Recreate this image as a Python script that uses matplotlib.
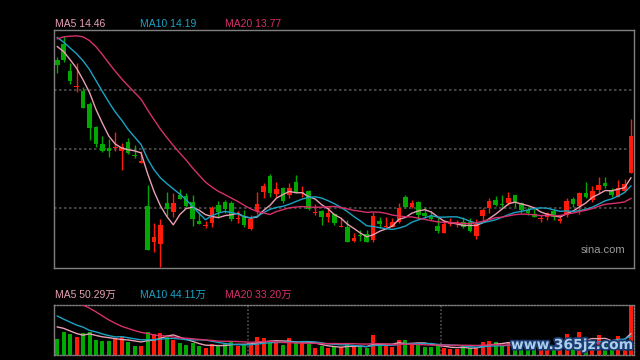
import numpy as np
import matplotlib
matplotlib.use("Agg")
import matplotlib.pyplot as plt
import matplotlib.patheffects as pe

# 日K数据 (90根)
opens = [18.35, 18.88, 17.98, 17.44, 17.32, 16.88, 16.11, 15.55, 15.43, 15.42,
         15.33, 15.62, 15.19, 14.91, 13.48, 12.29, 12.22, 13.59, 13.27, 13.84,
         13.82, 13.61, 12.98, 12.82, 12.91, 13.51, 13.62, 13.57, 13.06, 13.11,
         12.73, 13.32, 13.96, 14.48, 13.88, 14.08, 13.84, 14.28, 13.91, 13.98,
         13.26, 13.33, 13.13, 13.22, 12.78, 12.79, 12.33, 12.52, 12.54, 12.35,
         12.98, 12.78, 12.79, 12.96, 13.79, 13.44, 13.62, 13.24, 13.15, 12.82,
         12.59, 12.87, 12.87, 12.96, 12.96, 12.49, 13.15, 13.43, 13.68, 13.53,
         13.57, 13.85, 13.57, 13.35, 13.22, 13.04, 13.11, 13.33, 12.99, 13.18,
         13.71, 13.48, 13.93, 13.68, 14.02, 14.25, 14.03, 13.80, 14.00, 14.59]
highs = [18.44, 19.15, 18.26, 18.24, 17.46, 16.96, 16.16, 15.82, 15.71, 15.94,
         15.57, 15.76, 15.52, 15.33, 14.19, 12.91, 13.04, 13.95, 13.91, 14.04,
         13.91, 13.84, 13.28, 12.98, 13.48, 13.65, 13.68, 13.66, 13.32, 13.35,
         13.18, 13.94, 14.24, 14.54, 14.29, 14.11, 14.26, 14.52, 14.15, 14.02,
         13.54, 13.35, 13.46, 13.24, 13.07, 13.02, 12.57, 12.68, 12.68, 13.29,
         13.13, 13.13, 13.07, 13.57, 13.85, 13.68, 13.65, 13.46, 13.33, 13.07,
         13.02, 13.07, 13.02, 13.13, 13.09, 13.04, 13.41, 13.74, 13.82, 13.85,
         13.96, 13.85, 13.63, 13.46, 13.41, 13.18, 13.29, 13.37, 13.15, 13.74,
         13.77, 13.96, 14.29, 14.15, 14.45, 14.46, 14.10, 14.35, 14.38, 16.37]
lows = [17.93, 18.29, 17.55, 17.28, 16.76, 15.68, 15.46, 15.28, 15.13, 15.33,
        14.68, 15.22, 15.09, 14.91, 12.03, 11.96, 11.46, 13.15, 13.11, 13.71,
        13.44, 12.83, 12.87, 12.75, 12.77, 13.13, 13.26, 12.99, 12.91, 12.79,
        12.68, 13.22, 13.74, 13.77, 13.77, 13.57, 13.76, 13.91, 13.77, 13.35,
        13.18, 12.85, 12.96, 12.85, 12.77, 12.27, 12.29, 12.33, 12.29, 12.29,
        12.74, 12.74, 12.77, 12.91, 13.41, 13.41, 13.04, 13.07, 13.02, 12.57,
        12.57, 12.82, 12.77, 12.74, 12.63, 12.38, 12.99, 13.26, 13.48, 13.46,
        13.52, 13.46, 13.24, 13.18, 13.11, 12.96, 13.02, 13.02, 12.93, 13.13,
        13.46, 13.22, 13.74, 13.63, 13.91, 14.07, 13.77, 13.77, 13.96, 14.59]
closes = [18.19, 18.35, 17.65, 17.48, 16.76, 16.09, 15.55, 15.33, 15.33, 15.44,
          15.44, 15.26, 15.15, 14.98, 12.03, 12.45, 12.84, 13.39, 13.58, 13.73,
          13.47, 13.06, 12.89, 12.84, 13.42, 13.28, 13.39, 13.04, 13.08, 12.85,
          13.06, 13.55, 14.15, 13.93, 14.05, 13.66, 14.07, 13.93, 13.93, 13.38,
          13.29, 13.13, 13.24, 12.93, 12.82, 12.29, 12.42, 12.48, 12.29, 13.15,
          12.88, 12.81, 12.96, 13.41, 13.46, 13.59, 13.19, 13.16, 13.04, 12.65,
          12.88, 12.91, 12.96, 12.79, 12.65, 12.88, 13.35, 13.66, 13.52, 13.51,
          13.75, 13.63, 13.35, 13.26, 13.13, 13.07, 13.24, 13.11, 13.04, 13.66,
          13.54, 13.91, 13.79, 13.98, 14.18, 14.15, 13.85, 14.07, 14.23, 15.82]
# 成交量 (万)
volumes = [36.7, 53.5, 48.7, 41.5, 50.4, 52.8, 34.3, 31.9, 31.9, 38.4,
           42.2, 29.5, 19.9, 19.9, 53.5, 48.7, 51.1, 46.3, 34.3, 27.1,
           22.3, 27.1, 19.9, 15.1, 24.7, 19.9, 27.1, 30.2, 19.9, 24.7,
           24.7, 41.5, 39.1, 29.5, 29.5, 22.3, 39.1, 29.5, 29.5, 24.7,
           15.1, 19.9, 15.1, 19.9, 16.8, 24.7, 19.9, 17.5, 15.1, 46.3,
           24.0, 19.9, 17.5, 34.3, 34.3, 27.1, 24.7, 17.5, 17.5, 24.7,
           15.1, 12.7, 12.7, 19.9, 15.1, 17.5, 29.5, 31.9, 29.5, 22.3,
           29.5, 22.3, 19.9, 17.5, 15.1, 12.7, 17.5, 19.9, 15.1, 48.7,
           24.7, 53.5, 29.5, 34.3, 46.3, 29.5, 24.7, 43.9, 34.3, 118.3]
# 窗口之前的19个交易日 (用于均线)
prev_closes = [17.0, 17.2, 17.3, 17.4, 18.6, 19.6, 20.6, 21.0, 20.9, 20.5,
               19.9, 19.6, 19.4, 19.1, 19.0, 19.2, 19.0, 18.9, 18.7]
prev_volumes = [90, 100, 110, 120, 200, 210, 230, 220, 200, 189,
                130, 120, 110, 100, 130, 71, 80, 72, 70]

price_labels = ["MA5 14.46", "MA10 14.19", "MA20 13.77"]
volume_labels = ["MA5 50.29万", "MA10 44.11万", "MA20 33.20万"]
ma_periods = [5, 10, 20]
ma_colors = ["#e8a0b4", "#1aa3c4", "#d6306c"]

UP = "#ff1a0a"
DOWN = "#00a800"
BORDER = "#808080"
GRID = "#505050"

n = len(closes)
x = np.arange(n)
o = np.array(opens)
c = np.array(closes)
up = c >= o
colors = np.where(up, UP, DOWN)


def moving_avg(prev, vals, p):
    s = np.array(prev + vals, dtype=float)
    ma = np.convolve(s, np.ones(p) / p, mode="valid")
    return ma[-len(vals):]


plt.rcParams["font.family"] = ["Liberation Sans", "Noto Sans CJK SC", "DejaVu Sans"]

W, H = 640, 360
fig = plt.figure(figsize=(6.4, 3.6), dpi=100, facecolor="black")

# 主图
ax = fig.add_axes([54 / W, 1 - 268 / H, 580 / W, 238 / H], facecolor="black")
ymin, ymax = 11.42, 19.35
ax.set_ylim(ymin, ymax)
ax.set_xlim(-0.51, 89.47)
for k in (1, 2, 3):
    ax.axhline(ymin + k * (ymax - ymin) / 4, color=GRID, lw=1.2,
               ls=(0, (1.5, 1.5)), zorder=0)

ax.vlines(x, lows, highs, colors=colors, lw=1, zorder=2)
body_h = np.maximum(np.abs(c - o), 0.035)
ax.bar(x, body_h, bottom=np.minimum(o, c), width=0.7, color=colors,
       linewidth=0, zorder=3)

for p, col in zip(ma_periods, ma_colors):
    ax.plot(x, moving_avg(prev_closes, closes, p), color=col, lw=1, zorder=4)

ax.text(0.985, 0.075, "sina.com", transform=ax.transAxes, ha="right",
        va="center", color="#9a9a9a", fontsize=8)

# 成交量
axv = fig.add_axes([54 / W, 1 - 354.5 / H, 580 / W, 49.5 / H], facecolor="black")
axv.set_xlim(-0.51, 89.47)
axv.set_ylim(0, max(volumes))
axv.bar(x, volumes, width=0.62, color=colors, linewidth=0, zorder=2)
for p, col in zip(ma_periods, ma_colors):
    axv.plot(x, moving_avg(prev_volumes, volumes, p), color=col, lw=1, zorder=3)
for xv in (29.6, 59.5):
    axv.axvline(xv, color=GRID, lw=1.2, ls=(0, (1, 1.2)), zorder=0)

for a in (ax, axv):
    a.set_xticks([])
    a.set_yticks([])
    for s in a.spines.values():
        s.set_color(BORDER)
        s.set_linewidth(1)
for side in ("top", "bottom", "right"):
    axv.spines[side].set_linestyle((0, (1, 1.2)))

# 均线标注
label_x = [55, 140, 225]
for lx, txt, col in zip(label_x, price_labels, ma_colors):
    fig.text(lx / W, 1 - 24 / H, txt, color=col, fontsize=7.5, va="center")
for lx, txt, col in zip(label_x, volume_labels, ma_colors):
    fig.text(lx / W, 1 - 295 / H, txt, color=col, fontsize=7.5, va="center")

fig.text(633 / W, 1 - 345 / H, "www.365jz.com", color="#a8d0ee", fontsize=10,
         fontweight="bold", ha="right", va="center", family="DejaVu Sans",
         path_effects=[pe.withStroke(linewidth=2.5, foreground="#1c3a6e")])

fig.savefig("out.png", dpi=100, facecolor="black")
